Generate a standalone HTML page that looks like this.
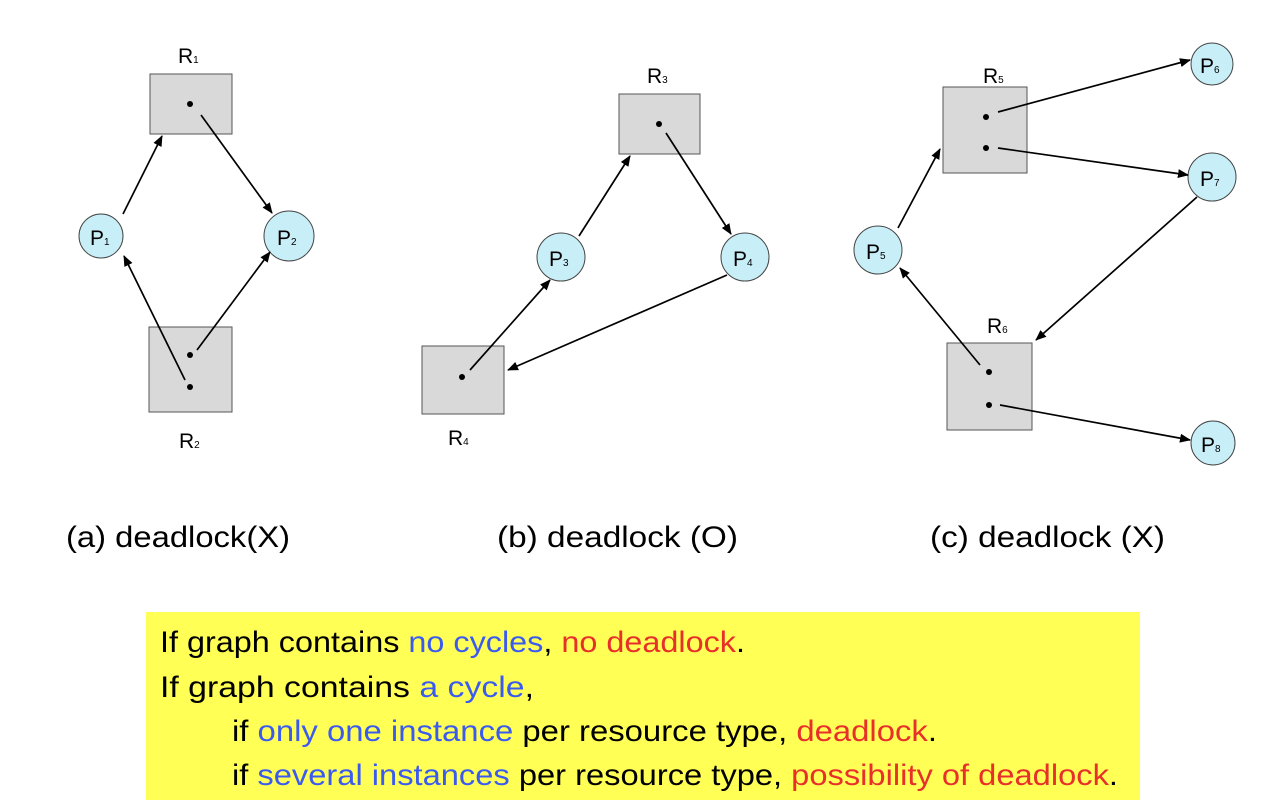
<!DOCTYPE html>
<html><head><meta charset="utf-8"><style>
body{margin:0;background:#fff;}
svg{display:block;font-family:"Liberation Sans",sans-serif;}
</style></head><body>
<svg width="1268" height="808" viewBox="0 0 1268 808">
<defs><marker id="a" markerWidth="11" markerHeight="9" refX="10" refY="4.5" orient="auto" markerUnits="userSpaceOnUse"><path d="M0,0 L11,4.5 L0,9 z" fill="#000"/></marker></defs>
<g fill="#d9d9d9" stroke="#555" stroke-width="1">
<rect x="150" y="74" width="82" height="60"/>
<rect x="149" y="327" width="83" height="85"/>
<rect x="619" y="94" width="81" height="60"/>
<rect x="422" y="346" width="82" height="68"/>
<rect x="943" y="87" width="84" height="86"/>
<rect x="947" y="343" width="85" height="87"/>
</g>
<g fill="#c8eef7" stroke="#444" stroke-width="1">
<circle cx="101" cy="236" r="22"/><circle cx="289" cy="236" r="25"/>
<circle cx="561" cy="257" r="24"/><circle cx="745" cy="257" r="24"/>
<circle cx="1212" cy="64" r="21"/><circle cx="1212" cy="177" r="24"/>
<circle cx="878" cy="250" r="24"/><circle cx="1213" cy="443" r="22"/>
</g>
<g fill="#000">
<circle cx="190" cy="104" r="3"/><circle cx="190" cy="355" r="3"/><circle cx="190" cy="387" r="3"/>
<circle cx="659" cy="124" r="3"/><circle cx="462" cy="377" r="3"/>
<circle cx="986" cy="117" r="3"/><circle cx="986" cy="148" r="3"/>
<circle cx="989" cy="372" r="3"/><circle cx="989" cy="405" r="3"/>
</g>
<g stroke="#000" stroke-width="1.7" marker-end="url(#a)">
<line x1="123" y1="214" x2="162" y2="136"/>
<line x1="201" y1="115" x2="272" y2="213"/>
<line x1="185" y1="380" x2="124" y2="256"/>
<line x1="197" y1="350" x2="270" y2="252"/>
<line x1="579" y1="236" x2="630" y2="156"/>
<line x1="666" y1="133" x2="731" y2="234"/>
<line x1="727" y1="275" x2="508" y2="370"/>
<line x1="470" y1="370" x2="550" y2="280"/>
<line x1="998" y1="112" x2="1190" y2="60"/>
<line x1="998" y1="148" x2="1188" y2="175"/>
<line x1="898" y1="228" x2="940" y2="149"/>
<line x1="1197" y1="197" x2="1036" y2="340"/>
<line x1="980" y1="365" x2="900" y2="268"/>
<line x1="1000" y1="405" x2="1190" y2="440"/>
</g>
<g font-size="21" fill="#000">
<text x="178" y="63">R<tspan font-size="10">1</tspan></text>
<text x="179" y="448">R<tspan font-size="10">2</tspan></text>
<text x="90" y="245">P<tspan font-size="10">1</tspan></text>
<text x="277" y="245">P<tspan font-size="10">2</tspan></text>
<text x="647" y="83">R<tspan font-size="10">3</tspan></text>
<text x="448" y="445">R<tspan font-size="10">4</tspan></text>
<text x="549" y="266">P<tspan font-size="10">3</tspan></text>
<text x="733" y="266">P<tspan font-size="10">4</tspan></text>
<text x="983" y="83">R<tspan font-size="10">5</tspan></text>
<text x="987" y="333">R<tspan font-size="10">6</tspan></text>
<text x="1200" y="73">P<tspan font-size="10">6</tspan></text>
<text x="1200" y="186">P<tspan font-size="10">7</tspan></text>
<text x="866" y="259">P<tspan font-size="10">5</tspan></text>
<text x="1201" y="452">P<tspan font-size="10">8</tspan></text>
</g>
<g font-size="30" fill="#000">
<text x="66" y="547" textLength="224" lengthAdjust="spacingAndGlyphs">(a) deadlock(X)</text>
<text x="497" y="547" textLength="241" lengthAdjust="spacingAndGlyphs">(b) deadlock (O)</text>
<text x="930" y="547" textLength="235" lengthAdjust="spacingAndGlyphs">(c) deadlock (X)</text>
</g>
<rect x="146" y="612" width="994" height="188" fill="#ffff55"/>
<g font-size="30" fill="#000">
<text x="160" y="652" textLength="585" lengthAdjust="spacingAndGlyphs">If graph contains <tspan fill="#3b5bf0">no cycles</tspan>, <tspan fill="#e8302a">no deadlock</tspan>.</text>
<text x="160" y="697" textLength="374" lengthAdjust="spacingAndGlyphs">If graph contains <tspan fill="#3b5bf0">a cycle</tspan>,</text>
<text x="232" y="741" textLength="705" lengthAdjust="spacingAndGlyphs">if <tspan fill="#3b5bf0">only one instance</tspan> per resource type, <tspan fill="#e8302a">deadlock</tspan>.</text>
<text x="232" y="785" textLength="886" lengthAdjust="spacingAndGlyphs">if <tspan fill="#3b5bf0">several instances</tspan> per resource type, <tspan fill="#e8302a">possibility of deadlock</tspan>.</text>
</g>
</svg>
</body></html>
